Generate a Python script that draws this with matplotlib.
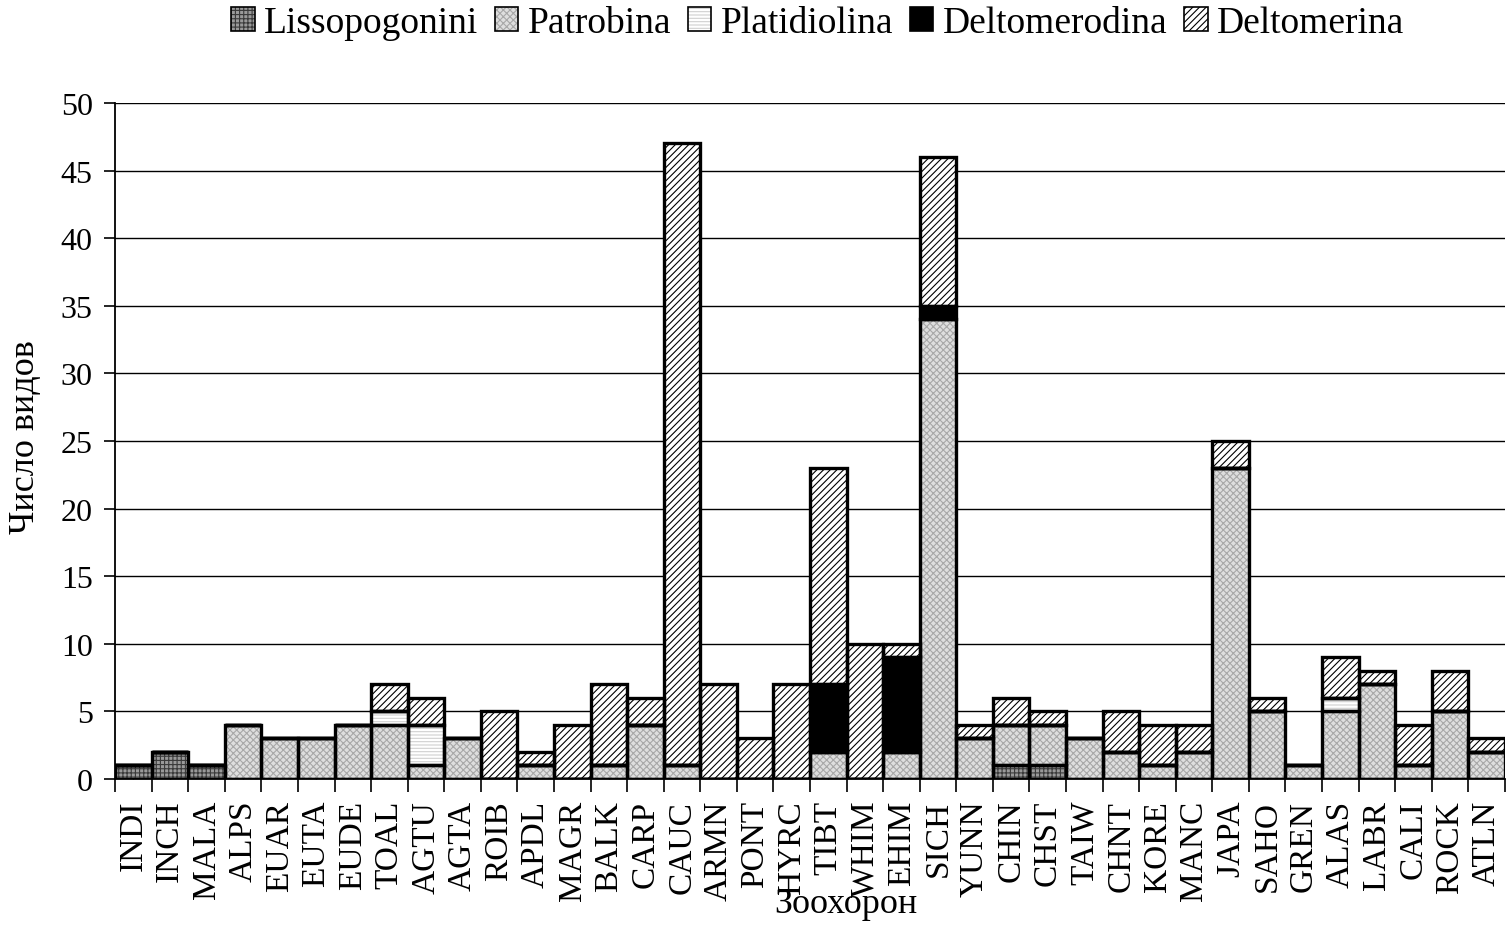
import matplotlib
matplotlib.use("Agg")
import matplotlib.pyplot as plt
import numpy as np
from matplotlib.patches import Patch
from matplotlib.legend_handler import HandlerTuple

# зоохороны по оси X
regions = ["INDI", "INCH", "MALA", "ALPS", "EUAR", "EUTA", "EUDE", "TOAL", "AGTU", "AGTA",
           "ROIB", "APDL", "MAGR", "BALK", "CARP", "CAUC", "ARMN", "PONT", "HYRC", "TIBT",
           "WHIM", "EHIM", "SICH", "YUNN", "CHIN", "CHST", "TAIW", "CHNT", "KORE", "MANC",
           "JAPA", "SAHO", "GREN", "ALAS", "LABR", "CALI", "ROCK", "ATLN"]

# число видов по группам (снизу вверх)
lissopogonini = [1, 2, 1, 0, 0, 0, 0, 0, 0, 0, 0, 0, 0, 0, 0, 0, 0, 0, 0, 0,
                 0, 0, 0, 0, 1, 1, 0, 0, 0, 0, 0, 0, 0, 0, 0, 0, 0, 0]
patrobina = [0, 0, 0, 4, 3, 3, 4, 4, 1, 3, 0, 1, 0, 1, 4, 1, 0, 0, 0, 2,
             0, 2, 34, 3, 3, 3, 3, 2, 1, 2, 23, 5, 1, 5, 7, 1, 5, 2]
platidiolina = [0, 0, 0, 0, 0, 0, 0, 1, 3, 0, 0, 0, 0, 0, 0, 0, 0, 0, 0, 0,
                0, 0, 0, 0, 0, 0, 0, 0, 0, 0, 0, 0, 0, 1, 0, 0, 0, 0]
deltomerodina = [0, 0, 0, 0, 0, 0, 0, 0, 0, 0, 0, 0, 0, 0, 0, 0, 0, 0, 0, 5,
                 0, 7, 1, 0, 0, 0, 0, 0, 0, 0, 0, 0, 0, 0, 0, 0, 0, 0]
deltomerina = [0, 0, 0, 0, 0, 0, 0, 2, 2, 0, 5, 1, 4, 6, 2, 46, 7, 3, 7, 16,
               10, 1, 11, 1, 2, 1, 0, 3, 3, 2, 2, 1, 0, 3, 1, 3, 3, 1]

series = [
    ("Lissopogonini", lissopogonini, "#9a9a9a", "++++", "#3a3a3a"),
    ("Patrobina", patrobina, "#dedede", "xxxxx", "#a8a8a8"),
    ("Platidiolina", platidiolina, "white", "-----", "#d0d0d0"),
    ("Deltomerodina", deltomerodina, "black", None, "black"),
    ("Deltomerina", deltomerina, "white", "/////", "black"),
]

plt.rcParams["font.family"] = ["Liberation Serif", "DejaVu Serif"]
plt.rcParams["hatch.linewidth"] = 0.8

fig = plt.figure(figsize=(15.06, 9.28), dpi=100)
ax = fig.add_axes([0.0764, 0.1595, 0.9229, 0.7285])

x = np.arange(len(regions))
bottom = np.zeros(len(regions))
handles = []
for name, vals, face, hatch, hcol in series:
    vals = np.array(vals, dtype=float)
    ax.bar(x, vals, width=1.0, bottom=bottom, color=face, hatch=hatch,
           edgecolor=hcol, linewidth=0, zorder=2)
    ax.bar(x, vals, width=1.0, bottom=bottom, fill=False,
           edgecolor="black", linewidth=2.4, zorder=3)
    bottom += vals
    h1 = Patch(facecolor=face, hatch=hatch, edgecolor=hcol, linewidth=0)
    h2 = Patch(fill=False, edgecolor="black", linewidth=1.2)
    handles.append((h1, h2))

ax.set_xlim(-0.5, len(regions) - 0.5)
ax.set_ylim(0, 50)
ax.set_yticks(np.arange(0, 51, 5))
ax.yaxis.grid(True, color="black", linewidth=1.0, zorder=0)
ax.set_axisbelow(True)

ax.set_xticks(x)
ax.set_xticklabels(regions, rotation=90, fontsize=24)
ax.set_xticks(np.arange(-0.5, len(regions), 1.0), minor=True)
ax.tick_params(axis="x", which="major", direction="in", length=5, width=1, pad=15)
ax.tick_params(axis="x", which="minor", direction="out", length=9, width=1.2)
ax.tick_params(axis="y", direction="out", length=8, width=1.2, labelsize=23, pad=8)

for s in ["top", "right"]:
    ax.spines[s].set_visible(False)
for s in ["left", "bottom"]:
    ax.spines[s].set_linewidth(1.3)

fig.text(0.017, 0.529, "Число видов", rotation=90, ha="center", va="center", fontsize=26)
fig.text(0.562, 0.0162, "Зоохорон", ha="center", va="baseline", fontsize=26)

fig.legend(handles, [s[0] for s in series], handler_map={tuple: HandlerTuple(ndivide=1)},
           loc="center", bbox_to_anchor=(0.543, 0.974), ncol=5, frameon=False,
           fontsize=27, handlelength=0.62, handleheight=0.62, handletextpad=0.25,
           columnspacing=0.45, borderpad=0.1)

fig.savefig("out.png", dpi=100)
